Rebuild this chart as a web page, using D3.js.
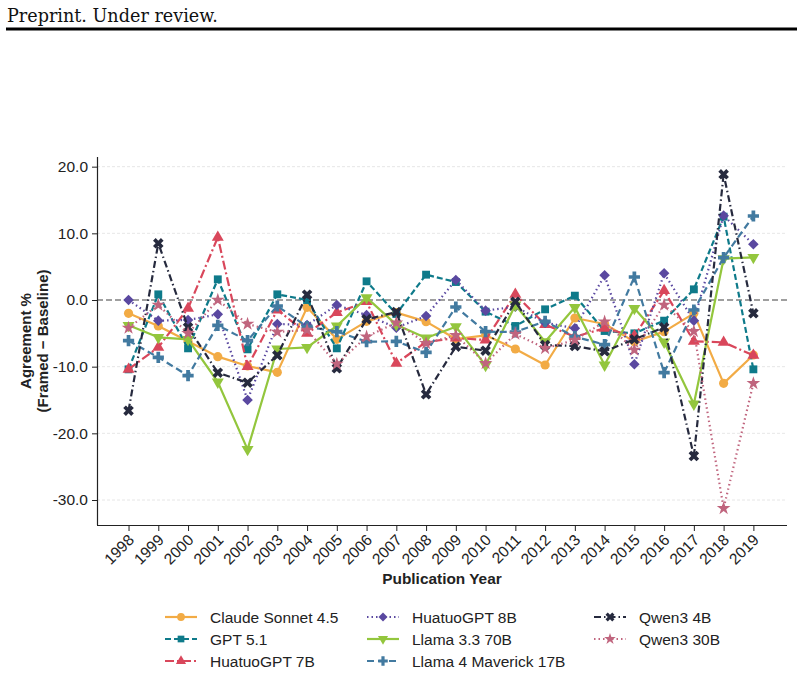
<!DOCTYPE html>
<html>
<head>
<meta charset="utf-8">
<script src="https://cdn.jsdelivr.net/npm/d3@7"></script>
<style>
  body { margin: 0; background: #fff; }
  svg { display: block; }
</style>
</head>
<body>
<div id="chart"></div>
<script>
// datos
const years = [1998,1999,2000,2001,2002,2003,2004,2005,2006,2007,2008,2009,2010,2011,2012,2013,2014,2015,2016,2017,2018,2019];
const yTicks = [20, 10, 0, -10, -20, -30];

const claude   = [-2.0,-3.9,-6.2,-8.5,-9.9,-10.85,-1.1,-5.9,-3.2,-1.9,-3.25,-5.85,-5.3,-7.35,-9.75,-2.7,-3.6,-6.25,-4.75,-2.0,-12.5,-8.25];
const gpt      = [-10.4,0.85,-7.25,3.1,-7.4,0.85,0.0,-7.25,2.8,-2.1,3.8,2.7,-1.75,-3.9,-1.4,0.65,-4.65,-5.0,-3.1,1.6,12.5,-10.4];
const huatuo7  = [-10.4,-7.1,-1.25,9.4,-10.0,-1.5,-5.0,-1.9,-0.25,-9.5,-6.3,-5.7,-6.0,0.85,-3.7,-5.5,-4.25,-5.4,1.4,-6.2,-6.35,-8.3];
const huatuo8  = [0.0,-3.1,-3.0,-2.15,-15.0,-3.6,-3.75,-0.75,-2.25,-4.15,-2.4,3.0,-1.6,-1.0,-3.4,-4.25,3.7,-9.65,4.0,-3.1,12.65,8.35];
const llama70  = [-3.8,-5.6,-5.9,-12.3,-22.4,-7.35,-7.1,-3.9,0.35,-3.7,-5.7,-4.0,-9.8,-0.75,-6.25,-1.1,-9.75,-1.25,-6.3,-15.6,6.2,6.4];
const llama17  = [-6.1,-8.6,-11.35,-3.8,-6.1,-0.9,-4.0,-4.75,-6.25,-6.2,-7.85,-1.05,-4.75,-4.8,-3.2,-5.5,-6.7,3.45,-10.9,-1.5,6.35,12.6];
const qwen4    = [-16.6,8.5,-4.1,-10.9,-12.4,-8.3,0.8,-10.25,-2.9,-1.8,-14.15,-7.0,-7.6,-0.25,-6.75,-6.9,-7.7,-5.9,-4.1,-23.4,18.85,-2.0];
const qwen30   = [-4.2,-0.75,-5.0,0.0,-3.6,-4.8,-4.5,-9.6,-5.5,-3.4,-6.5,-5.3,-9.5,-5.1,-7.25,-6.0,-3.25,-7.5,-0.75,-4.7,-31.25,-12.5];

const series = [
  { name:'Claude Sonnet 4.5',    values: claude,  color:'#f2ab45', dash:null,          marker:'circle' },
  { name:'GPT 5.1',              values: gpt,     color:'#0e7a8a', dash:'6,3',         marker:'square' },
  { name:'HuatuoGPT 7B',         values: huatuo7, color:'#d9475b', dash:'9,3,2,3',     marker:'tri' },
  { name:'HuatuoGPT 8B',         values: huatuo8, color:'#5a48a0', dash:'1.5,3',       marker:'diamond' },
  { name:'Llama 3.3 70B',        values: llama70, color:'#93c63d', dash:null,          marker:'tridown' },
  { name:'Llama 4 Maverick 17B', values: llama17, color:'#427aa0', dash:'7,4',         marker:'plus' },
  { name:'Qwen3 4B',             values: qwen4,   color:'#262a3e', dash:'7,3,1.5,3',   marker:'x' },
  { name:'Qwen3 30B',            values: qwen30,  color:'#c0657e', dash:'1.5,3',       marker:'star' }
];

const W = 804, H = 674;
const FONT = 'Liberation Sans, Arial, sans-serif';
const svg = d3.select('#chart').append('svg').attr('width', W).attr('height', H)
  .style('font-family', FONT);

// cabecera
svg.append('text').attr('x', 7).attr('y', 22).attr('font-family', 'DejaVu Serif, Liberation Serif, serif')
  .attr('font-size', 17.6).attr('fill', '#111').text('Preprint. Under review.');
svg.append('rect').attr('x', 6).attr('y', 27.5).attr('width', 791).attr('height', 3).attr('fill', '#000');

const x = d3.scaleLinear().domain([1996.94, 2020.13]).range([97, 787]);
const y = d3.scaleLinear().domain([-33.75, 21.45]).range([525, 157]);

// grid
svg.append('g').selectAll('line').data(yTicks.filter(t => t !== 0)).enter().append('line')
  .attr('x1', 97).attr('x2', 787).attr('y1', d => y(d)).attr('y2', d => y(d))
  .attr('stroke', '#e0e0e0').attr('stroke-width', 0.8).attr('stroke-dasharray', '3,2');

svg.append('line').attr('x1', 97).attr('x2', 787).attr('y1', y(0)).attr('y2', y(0))
  .attr('stroke', '#808080').attr('stroke-width', 1.6).attr('stroke-dasharray', '6,3');

// ejes
const yAxis = svg.append('g').attr('transform', 'translate(97,0)')
  .call(d3.axisLeft(y).tickValues(yTicks).tickSize(5).tickFormat(d => d.toFixed(1)));
const xAxis = svg.append('g').attr('transform', 'translate(0,525)')
  .call(d3.axisBottom(x).tickValues(years).tickSize(6).tickFormat(d => String(d)));
[yAxis, xAxis].forEach(a => {
  a.select('.domain').attr('stroke', '#222').attr('stroke-width', 1.2);
  a.selectAll('.tick line').attr('stroke', '#222').attr('stroke-width', 1);
  a.selectAll('text').attr('font-size', 15.5).attr('fill', '#222').attr('font-family', FONT);
});
yAxis.select('.domain').attr('d', 'M0.5,157V525');
xAxis.select('.domain').attr('d', 'M97,0.5H787');
yAxis.selectAll('text').attr('x', -9);
xAxis.selectAll('text').attr('text-anchor', 'end').attr('dy', null).attr('y', 0)
  .attr('transform', 'translate(6,16) rotate(-45)');

svg.append('text').attr('x', 442).attr('y', 584).attr('text-anchor', 'middle')
  .attr('font-weight', 'bold').attr('font-size', 15.4).attr('fill', '#222').text('Publication Year');
const yt = svg.append('text').attr('transform', 'translate(33,341) rotate(-90)').attr('text-anchor', 'middle')
  .attr('font-weight', 'bold').attr('font-size', 15).attr('fill', '#222');
yt.append('tspan').attr('x', 0).attr('dy', -2).text('Agreement %');
yt.append('tspan').attr('x', 0).attr('dy', 17).text('(Framed \u2212 Baseline)');

// marcadores
function markerPath(type) {
  switch (type) {
    case 'circle':  return { d: d3.symbol(d3.symbolCircle, 66)(), rot: 0 };
    case 'square':  return { d: d3.symbol(d3.symbolSquare, 62)(), rot: 0 };
    case 'tri':     return { d: d3.symbol(d3.symbolTriangle, 62)(), rot: 0 };
    case 'tridown': return { d: d3.symbol(d3.symbolTriangle, 62)(), rot: 180 };
    case 'diamond': return { d: d3.symbol(d3.symbolSquare, 56)(), rot: 45 };
    case 'plus':    return { d: d3.symbol(d3.symbolCross, 70)(), rot: 0 };
    case 'x':       return { d: d3.symbol(d3.symbolCross, 70)(), rot: 45 };
    case 'star':    return { d: d3.symbol(d3.symbolStar, 58)(), rot: 0 };
  }
}

const line = d3.line().x((d, i) => x(years[i])).y(d => y(d));

series.forEach(s => {
  const g = svg.append('g');
  g.append('path').attr('d', line(s.values)).attr('fill', 'none').attr('stroke', s.color)
    .attr('stroke-width', 2.2).attr('stroke-dasharray', s.dash).attr('stroke-linejoin', 'round');
  const m = markerPath(s.marker);
  g.selectAll('path.m').data(s.values).enter().append('path').attr('class', 'm')
    .attr('d', m.d).attr('fill', s.color)
    .attr('transform', (d, i) => `translate(${x(years[i])},${y(d)}) rotate(${m.rot})`);
});

// leyenda
const colX = [165, 367, 594];
const rowY = [617, 639, 661];
series.forEach((s, i) => {
  const c = Math.floor(i / 3), r = i % 3;
  const g = svg.append('g').attr('transform', `translate(${colX[c]},${rowY[r]})`);
  g.append('line').attr('x1', 0).attr('x2', 32).attr('y1', 0).attr('y2', 0)
    .attr('stroke', s.color).attr('stroke-width', 2.2).attr('stroke-dasharray', s.dash);
  const m = markerPath(s.marker);
  g.append('path').attr('d', m.d).attr('fill', s.color).attr('transform', `translate(16,0) rotate(${m.rot}) scale(0.85)`);
  g.append('text').attr('x', 45).attr('y', 5.5).attr('font-size', 15.5).attr('fill', '#222').text(s.name);
});
</script>
</body>
</html>
